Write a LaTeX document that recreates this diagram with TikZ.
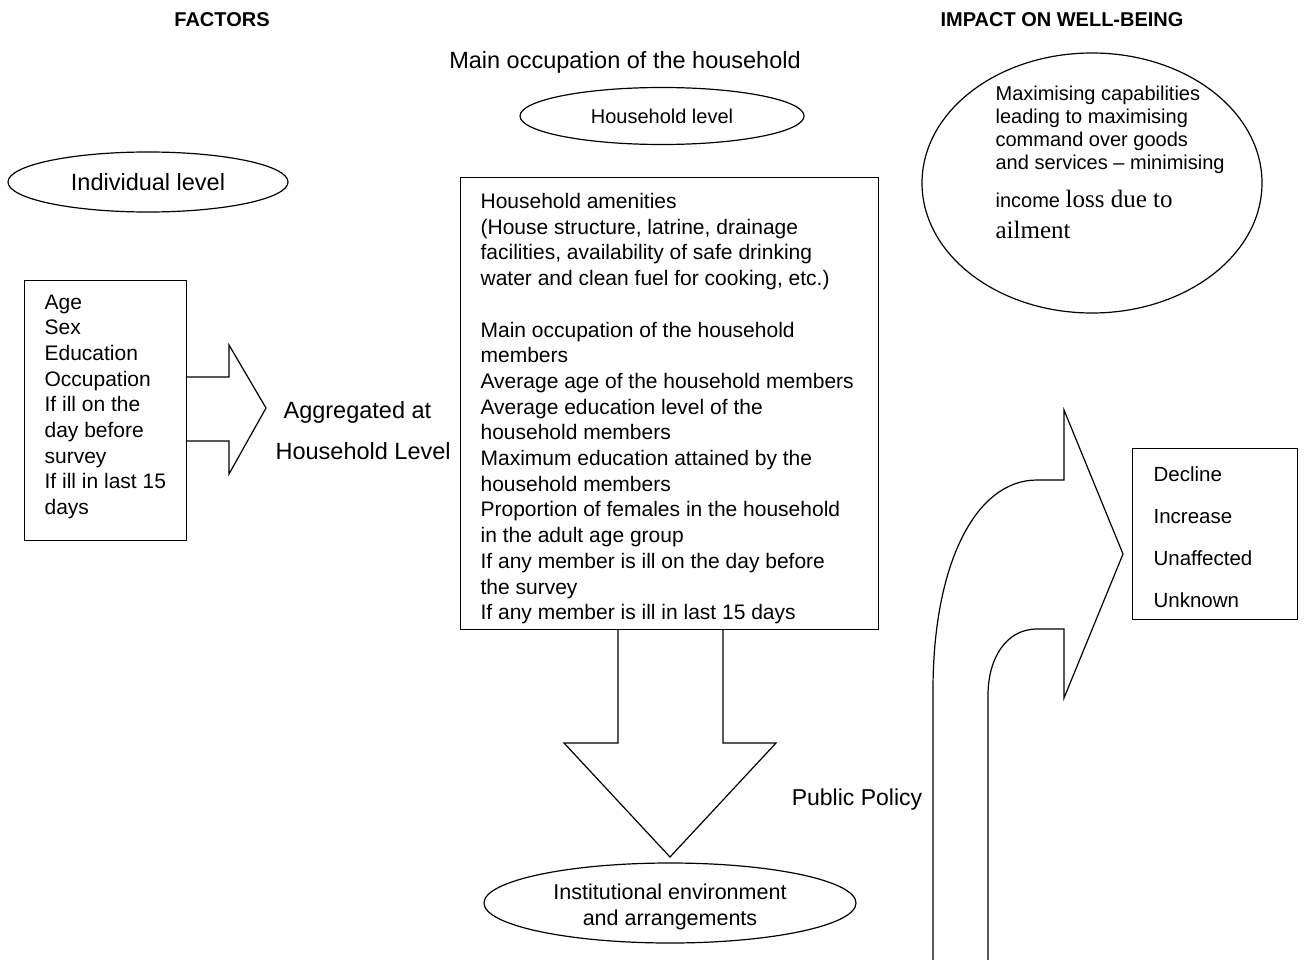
\documentclass[tikz,border=0pt]{standalone}
\usepackage{fontspec}
\setmainfont{Liberation Sans}
\newfontfamily\romanfont{Liberation Serif}
\usetikzlibrary{shapes.geometric}
\begin{document}
\begin{tikzpicture}[x=1pt,y=-1pt,line width=1.2pt,
  oval/.style={draw,ellipse,inner sep=0pt},
  frame/.style={draw,anchor=north west,inner sep=0pt},
  txt/.style={inner sep=0pt,align=left,anchor=north west,font=\fontsize{21}{25.7}\selectfont},
  head/.style={inner sep=0pt,anchor=base,font=\bfseries\fontsize{20}{24}\selectfont}]
  \useasboundingbox (0,0) rectangle (1313,960);
  \node[head] (factors) at (222,27) {FACTORS};
  \node[head] (impact) at (1062,27) {IMPACT ON WELL-BEING};
  \node[inner sep=0pt,anchor=base,font=\fontsize{23.5}{28}\selectfont] (mainocc) at (625,69) {Main occupation of the household};
  \node[oval,minimum width=284,minimum height=57,font=\fontsize{20}{24}\selectfont] (hhlevel) at (662,116) {Household level};
  \node[oval,minimum width=280,minimum height=60,font=\fontsize{23.5}{28}\selectfont] (indlevel) at (148,182) {Individual level};
  \node[oval,minimum width=340,minimum height=260] (wellbeing) at (1092,183) {};
  \node[txt,font=\fontsize{20}{23}\selectfont] (wbtext) at (995,85.5) {Maximising capabilities\\ leading to maximising\\ command over goods\\ and services -- minimising\\[15pt] income {\romanfont\fontsize{25}{23}\selectfont loss due to}\\[8pt] {\romanfont\fontsize{25}{23}\selectfont ailment}};
  \begin{scope}
    \node[frame,minimum width=162,minimum height=260] (indbox) at (24,280) {};
    \node[txt] (indtext) at (44,294) {Age\\ Sex\\ Education\\ Occupation\\ If ill on the\\ day before\\ survey\\ If ill in last 15\\ days};
    \draw (186,377) -- (229,377) -- (229,345) -- (266,408) -- (229,474) -- (229,441) -- (186,441);
    \node[inner sep=0pt,anchor=base west,font=\fontsize{23.5}{28}\selectfont] (aggr) at (283,418) {Aggregated at};
    \node[inner sep=0pt,anchor=base west,font=\fontsize{23.5}{28}\selectfont] (aggrhh) at (275,459) {Household Level};
  \end{scope}
  \begin{scope}
    \node[frame,minimum width=418,minimum height=452] (hhbox) at (460,177) {};
    \node[txt] (hhtext) at (480,192.7) {Household amenities\\ (House structure, latrine, drainage\\ facilities, availability of safe drinking\\ water and clean fuel for cooking, etc.)\\[25.7pt] Main occupation of the household\\ members\\ Average age of the household members\\ Average education level of the\\ household members\\ Maximum education attained by the\\ household members\\ Proportion of females in the household\\ in the adult age group\\ If any member is ill on the day before\\ the survey\\ If any member is ill in last 15 days};
    \draw (618,629) -- (618,743) -- (564,743) -- (670,857) -- (776,743) -- (723,743) -- (723,629);
    \node[oval,minimum width=372,minimum height=80] (inst) at (670,903) {};
    \node[inner sep=0pt,align=center,font=\fontsize{21.5}{26}\selectfont] (insttext) at (670,907) {Institutional environment\\ and arrangements};
    \node[inner sep=0pt,font=\fontsize{23}{28}\selectfont] (policy) at (857,800) {Public Policy};
  \end{scope}
  \begin{scope}
    \draw (933,960) -- (933,690) .. controls (933,565) and (975,480) .. (1037,480) -- (1064,480) -- (1064,410)
          -- (1123,554) -- (1064,698) -- (1064,629) -- (1037,629) .. controls (1005,629) and (988,660) .. (988,695) -- (988,960);
    \node[frame,minimum width=165,minimum height=171] (impbox) at (1132,448) {};
    \node[txt,font=\fontsize{20.5}{41.8}\selectfont] (imptext) at (1153,466.5) {Decline\\ Increase\\ Unaffected\\ Unknown};
  \end{scope}
\end{tikzpicture}
\end{document}
